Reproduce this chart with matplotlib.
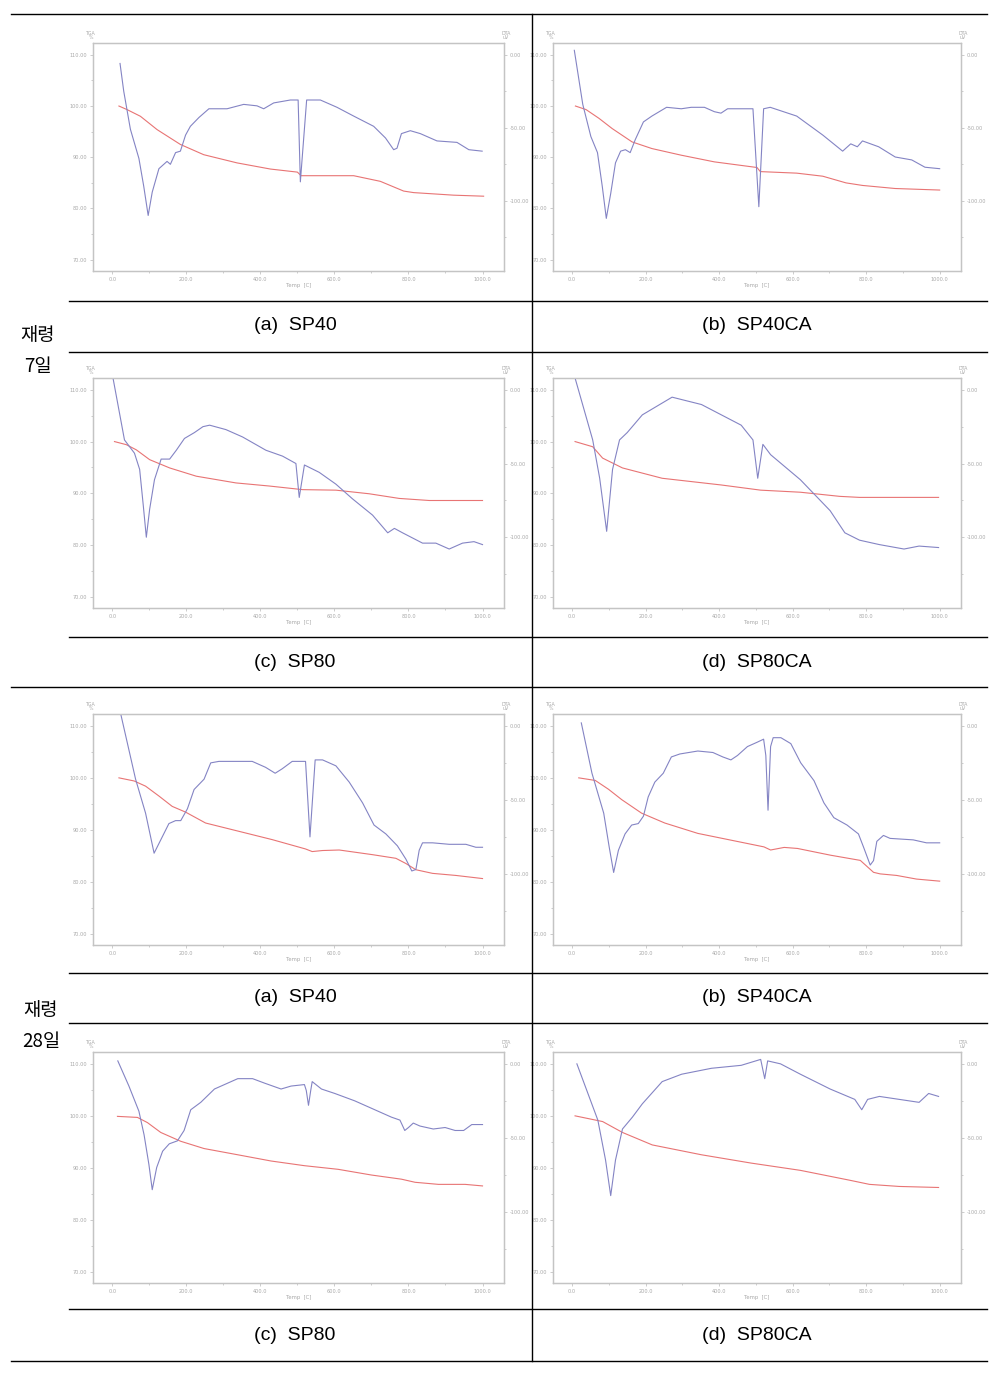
import matplotlib
matplotlib.use('Agg')
import matplotlib.pyplot as plt
from matplotlib.lines import Line2D
from matplotlib.ticker import MultipleLocator, FormatStrFormatter

# figure size in pixels
W, H = 1006, 1374

# ---- data ----
# (a) SP40, 7 days
a7_tga_t = [18, 40, 76, 121, 184, 247, 337, 427, 500, 510, 652, 724, 787, 814, 922, 1003]
a7_tga = [100.0, 99.3, 98.0, 95.4, 92.5, 90.5, 88.9, 87.7, 87.1, 86.4, 86.4, 85.3, 83.4, 83.1, 82.6, 82.4]
a7_dta_t = [21, 31, 49, 72, 85, 97, 108, 126, 148, 157, 171, 184, 198, 211, 234, 261, 310, 355, 391, 409,
            436, 481, 502, 508, 525, 562, 607, 652, 706, 738, 760, 769, 781, 805, 832, 877, 931, 963, 999]
a7_dta = [-6, -25, -51, -71, -90, -110, -94, -78, -73, -75, -67, -66, -55, -49, -43, -37, -37, -34, -35, -37,
          -33, -31, -31, -87, -31, -31, -36, -42, -49, -57, -65, -64, -54, -52, -54, -59, -60, -65, -66]

# (b) SP40CA, 7 days
b7_tga_t = [9, 38, 73, 109, 163, 217, 297, 387, 503, 512, 611, 682, 745, 790, 879, 1000]
b7_tga = [100.0, 99.3, 97.6, 95.6, 93.0, 91.7, 90.4, 89.1, 88.0, 87.2, 86.9, 86.3, 85.0, 84.5, 83.9, 83.6]
b7_dta_t = [6, 29, 51, 69, 82, 93, 105, 118, 132, 145, 158, 172, 194, 217, 257, 297, 324, 360, 387, 405,
            423, 476, 492, 508, 521, 539, 611, 682, 736, 758, 776, 790, 834, 879, 924, 960, 1000]
b7_dta = [3, -34, -56, -67, -90, -112, -95, -74, -66, -65, -67, -58, -46, -42, -36, -37, -36, -36, -39, -40,
          -37, -37, -37, -104, -37, -36, -42, -55, -66, -61, -63, -59, -63, -70, -72, -77, -78]

# (c) SP80, 7 days
c7_tga_t = [6, 38, 65, 101, 155, 227, 334, 424, 514, 604, 694, 775, 856, 1000]
c7_tga = [100.0, 99.4, 98.4, 96.5, 94.9, 93.3, 92.0, 91.4, 90.7, 90.6, 89.9, 89.0, 88.6, 88.6]
c7_dta_t = [2, 33, 60, 74, 84, 92, 101, 114, 132, 155, 173, 195, 222, 245, 263, 307, 352, 415, 460, 496,
            505, 519, 559, 604, 649, 703, 744, 762, 784, 838, 874, 910, 946, 977, 1000]
c7_dta = [8, -34, -43, -54, -79, -100, -81, -61, -47, -47, -41, -33, -29, -25, -24, -27, -32, -41, -45, -50,
          -73, -51, -56, -64, -74, -85, -97, -94, -97, -104, -104, -108, -104, -103, -105]

# (d) SP80CA, 7 days
d7_tga_t = [8, 56, 83, 137, 245, 406, 513, 621, 728, 782, 997]
d7_tga = [100.0, 99.0, 96.8, 94.9, 92.9, 91.6, 90.6, 90.2, 89.4, 89.2, 89.2]
d7_dta_t = [8, 56, 75, 94, 110, 129, 150, 191, 245, 272, 352, 460, 492, 505, 519, 540, 621, 702, 742, 782,
            836, 903, 944, 997]
d7_dta = [8, -34, -60, -96, -54, -34, -29, -17, -9, -5, -10, -24, -34, -60, -37, -44, -61, -82, -97, -102,
          -105, -108, -106, -107]

# (a) SP40, 28 days
a28_tga_t = [18, 59, 90, 126, 162, 198, 252, 342, 432, 522, 540, 568, 613, 703, 766, 793, 820, 865, 928, 1000]
a28_tga = [100.0, 99.4, 98.4, 96.5, 94.5, 93.4, 91.3, 89.7, 88.1, 86.3, 85.8, 86.0, 86.1, 85.2, 84.5, 83.5,
           82.3, 81.6, 81.2, 80.6]
a28_dta_t = [22, 63, 90, 113, 131, 153, 171, 185, 203, 221, 248, 266, 288, 378, 414, 440, 459, 486, 522, 534,
             548, 568, 604, 640, 676, 707, 739, 770, 793, 809, 820, 829, 838, 865, 910, 955, 982, 1000]
a28_dta = [9, -36, -59, -86, -77, -66, -64, -64, -56, -43, -36, -25, -24, -24, -28, -32, -29, -24, -24, -75,
           -23, -23, -27, -38, -52, -67, -73, -81, -90, -98, -97, -84, -79, -79, -80, -80, -82, -82]

# (b) SP40CA, 28 days
b28_tga_t = [18, 63, 99, 135, 189, 252, 342, 432, 522, 540, 577, 613, 703, 784, 820, 838, 883, 937, 1000]
b28_tga = [100.0, 99.5, 97.8, 95.8, 93.2, 91.3, 89.3, 88.0, 86.7, 86.1, 86.6, 86.4, 85.1, 84.1, 81.8, 81.5,
           81.2, 80.5, 80.1]
b28_dta_t = [25, 54, 86, 101, 113, 126, 144, 162, 180, 194, 207, 225, 248, 270, 293, 342, 383, 410, 432, 450,
             477, 504, 521, 527, 533, 540, 547, 568, 595, 622, 658, 685, 712, 748, 779, 793, 811, 820, 829, 847,
             865, 928, 964, 1000]
b28_dta = [2, -32, -59, -82, -99, -84, -73, -67, -66, -61, -48, -38, -32, -21, -19, -17, -18, -21, -23, -20,
           -14, -11, -9, -20, -57, -14, -8, -8, -12, -25, -37, -52, -62, -67, -73, -82, -94, -91, -78, -74,
           -76, -77, -79, -79]

# (c) SP80, 28 days
c28_tga_t = [14, 68, 95, 131, 185, 248, 339, 429, 519, 610, 700, 781, 818, 881, 953, 1000]
c28_tga = [99.9, 99.7, 98.7, 96.8, 95.1, 93.7, 92.5, 91.3, 90.4, 89.7, 88.6, 87.8, 87.2, 86.8, 86.8, 86.5]
c28_dta_t = [15, 45, 72, 86, 99, 108, 120, 136, 154, 176, 194, 212, 239, 276, 312, 339, 379, 411, 456, 483,
             519, 524, 530, 536, 540, 565, 601, 655, 700, 754, 777, 790, 800, 813, 831, 867, 899, 926, 949, 971,
             1000]
c28_dta = [2, -15, -32, -48, -68, -85, -70, -59, -54, -52, -45, -31, -26, -17, -13, -10, -10, -13, -17, -15,
           -14, -18, -28, -18, -12, -17, -20, -25, -30, -36, -38, -45, -43, -40, -42, -44, -43, -45, -45, -41,
           -41]

# (d) SP80CA, 28 days
d28_tga_t = [8, 83, 137, 218, 352, 487, 621, 755, 809, 890, 997]
d28_tga = [100.0, 98.9, 96.8, 94.4, 92.5, 90.9, 89.5, 87.6, 86.8, 86.4, 86.2]
d28_dta_t = [13, 70, 91, 105, 118, 137, 164, 191, 245, 298, 379, 460, 513, 524, 532, 567, 621, 702, 769, 788,
             804, 836, 890, 944, 970, 997]
d28_dta = [0, -38, -65, -89, -65, -44, -36, -27, -12, -7, -3, -1, 3, -10, 2, 0, -7, -17, -24, -31,
           -24, -22, -24, -26, -20, -22]

captions = ['(a)  SP40', '(b)  SP40CA', '(c)  SP80', '(d)  SP80CA']
age_labels = ['재령\n7일', '재령\n28일']

# colours
tga_color = '#e87474'
dta_color = '#8484c4'
frame_color = '#c4c4c4'
tick_color = '#a8a8a8'

fig = plt.figure(figsize=(W / 100, H / 100), dpi=100)


def box(x0, y0, x1, y1):
    # pixel box (top-left origin) -> figure fraction
    return [x0 / W, 1 - y1 / H, (x1 - x0) / W, (y1 - y0) / H]


def hline(y, x0, x1):
    fig.add_artist(Line2D([x0 / W, x1 / W], [1 - y / H, 1 - y / H], color='black', lw=1.0))


def vline(x, y0, y1):
    fig.add_artist(Line2D([x / W, x / W], [1 - y0 / H, 1 - y1 / H], color='black', lw=1.0))


def panel(rect, tga_t, tga, dta_t, dta):
    ax = fig.add_axes(box(*rect))
    ax2 = ax.twinx()

    ax.plot(tga_t, tga, color=tga_color, lw=0.8)
    ax2.plot(dta_t, dta, color=dta_color, lw=0.8)

    ax.set_xlim(-52, 1058)
    ax.set_ylim(67.8, 112.3)
    ax2.set_ylim(-148, 8)

    ax.xaxis.set_major_locator(MultipleLocator(200))
    ax.xaxis.set_minor_locator(MultipleLocator(100))
    ax.xaxis.set_major_formatter(FormatStrFormatter('%.1f'))
    ax.yaxis.set_major_locator(MultipleLocator(10))
    ax.yaxis.set_minor_locator(MultipleLocator(5))
    ax.yaxis.set_major_formatter(FormatStrFormatter('%.2f'))
    ax2.yaxis.set_major_locator(MultipleLocator(50))
    ax2.yaxis.set_minor_locator(MultipleLocator(25))
    ax2.yaxis.set_major_formatter(FormatStrFormatter('%.2f'))

    for a in (ax, ax2):
        for s in a.spines.values():
            s.set_color(frame_color)
            s.set_linewidth(0.9)
        a.tick_params(which='both', colors=frame_color, labelcolor=tick_color,
                      labelsize=3.6, width=0.6, pad=1.5)
        a.tick_params(which='major', length=2.5)
        a.tick_params(which='minor', length=1.5)

    ax.set_xlabel('Temp  [C]', fontsize=3.8, color=tick_color, labelpad=1)
    ax.text(-0.005, 1.012, 'TGA\n%', transform=ax.transAxes, fontsize=3.4,
            color=tick_color, ha='center', va='bottom', linespacing=0.9)
    ax.text(1.005, 1.012, 'DTA\nuV', transform=ax.transAxes, fontsize=3.4,
            color=tick_color, ha='center', va='bottom', linespacing=0.9)


# chart boxes (pixels: left, top, right, bottom)
left_x = (93, 504)
right_x = (553, 961)
rows_y = [(43, 271), (378, 608), (714, 945), (1052, 1283)]

panel((left_x[0], rows_y[0][0], left_x[1], rows_y[0][1]), a7_tga_t, a7_tga, a7_dta_t, a7_dta)
panel((right_x[0], rows_y[0][0], right_x[1], rows_y[0][1]), b7_tga_t, b7_tga, b7_dta_t, b7_dta)
panel((left_x[0], rows_y[1][0], left_x[1], rows_y[1][1]), c7_tga_t, c7_tga, c7_dta_t, c7_dta)
panel((right_x[0], rows_y[1][0], right_x[1], rows_y[1][1]), d7_tga_t, d7_tga, d7_dta_t, d7_dta)
panel((left_x[0], rows_y[2][0], left_x[1], rows_y[2][1]), a28_tga_t, a28_tga, a28_dta_t, a28_dta)
panel((right_x[0], rows_y[2][0], right_x[1], rows_y[2][1]), b28_tga_t, b28_tga, b28_dta_t, b28_dta)
panel((left_x[0], rows_y[3][0], left_x[1], rows_y[3][1]), c28_tga_t, c28_tga, c28_dta_t, c28_dta)
panel((right_x[0], rows_y[3][0], right_x[1], rows_y[3][1]), d28_tga_t, d28_tga, d28_dta_t, d28_dta)

# table rules
for y in (14, 687, 1361):
    hline(y, 11, 987)
for y in (301, 352, 637, 973, 1023, 1309):
    hline(y, 69, 987)
vline(532, 14, 1361)

# captions under each chart
caption_rows = [326, 662, 998, 1335]
for i, y in enumerate(caption_rows):
    fig.text(295 / W, 1 - y / H, captions[(i % 2) * 2], fontsize=14,
             family=['Liberation Sans', 'DejaVu Sans'], ha='center', va='center')
    fig.text(757 / W, 1 - y / H, captions[(i % 2) * 2 + 1], fontsize=14,
             family=['Liberation Sans', 'DejaVu Sans'], ha='center', va='center')

# age labels on the left
fig.text(38 / W, 1 - 351 / H, age_labels[0], fontsize=13.5, family=['Noto Sans CJK KR', 'DejaVu Sans'],
         ha='center', va='center', linespacing=1.65)
fig.text(41 / W, 1 - 1026 / H, age_labels[1], fontsize=13.5, family=['Noto Sans CJK KR', 'DejaVu Sans'],
         ha='center', va='center', linespacing=1.65)

fig.savefig('out.png', dpi=100)
